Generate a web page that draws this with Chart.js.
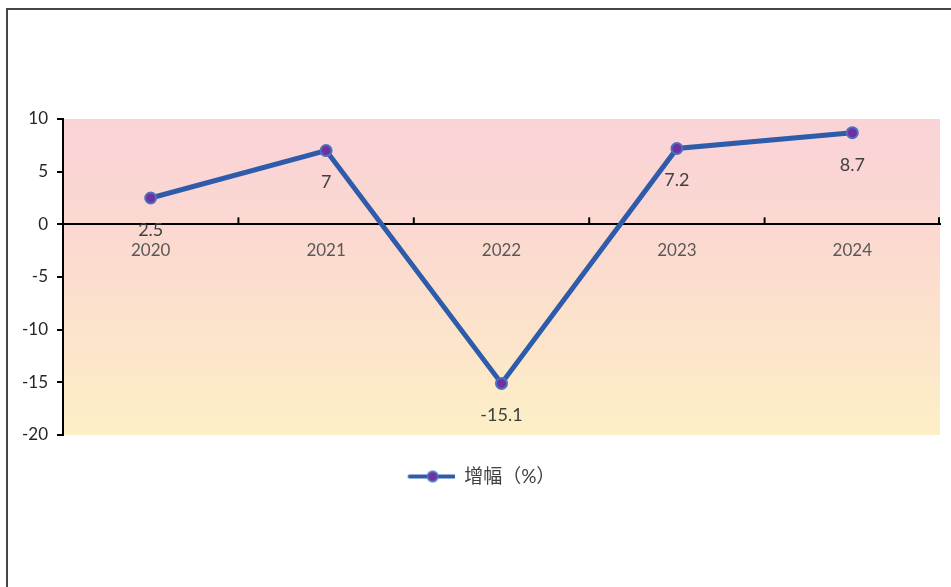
<!DOCTYPE html>
<html>
<head>
<meta charset="utf-8">
<script src="https://cdn.jsdelivr.net/npm/chart.js@4"></script>
<style>
  html, body { margin: 0; padding: 0; background: #fff; }
  .frame {
    position: absolute; left: 6px; top: 8px; width: 945px; height: 579px;
    border-top: 2px solid #464646; border-left: 2px solid #464646;
    box-sizing: border-box;
  }
  .wrap { position: absolute; left: 0; top: 0; width: 951px; height: 587px; }
</style>
</head>
<body>
<div class="frame"></div>
<div class="wrap"><canvas id="chart"></canvas></div>
<script>
const years = ['2020', '2021', '2022', '2023', '2024'];
const growth = [2.5, 7, -15.1, 7.2, 8.7];
const seriesName = '增幅（%）';
const yTicks = [10, 5, 0, -5, -10, -15, -20];

const lineBlue = '#2e5caa';
const dotPurple = '#7030a0';
const fontFamily = "Lato, 'Noto Sans CJK SC', sans-serif";

// legend marker: line with a dot in the middle (left part left blank on purpose)
const marker = document.createElement('canvas');
marker.width = 70;
marker.height = 14;
const mctx = marker.getContext('2d');
mctx.strokeStyle = lineBlue;
mctx.lineWidth = 4;
mctx.lineCap = 'round';
mctx.beginPath();
mctx.moveTo(25, 7);
mctx.lineTo(69, 7);
mctx.stroke();
mctx.beginPath();
mctx.arc(48, 7, 5, 0, Math.PI * 2);
mctx.fillStyle = dotPurple;
mctx.fill();
mctx.lineWidth = 2;
mctx.strokeStyle = '#4a72c0';
mctx.stroke();

const areaBackground = {
    id: 'areaBackground',
    beforeDraw(chart) {
        const { ctx, chartArea: a } = chart;
        const g = ctx.createLinearGradient(0, a.top, 0, a.bottom);
        g.addColorStop(0, '#fad3d8');
        g.addColorStop(0.35, '#fbd8d0');
        g.addColorStop(1, '#fdefc6');
        ctx.save();
        ctx.fillStyle = g;
        ctx.fillRect(a.left, a.top, a.right - a.left, a.bottom - a.top);
        ctx.restore();
    },
};

// upward tick marks on the zero line, between the categories
const zeroTicks = {
    id: 'zeroTicks',
    afterDraw(chart) {
        const { ctx, chartArea: a } = chart;
        const y0 = chart.scales.y.getPixelForValue(0);
        const n = years.length;
        ctx.save();
        ctx.strokeStyle = '#000';
        ctx.lineWidth = 2;
        for (let i = 1; i <= n; i++) {
            const x = a.left + (i * (a.right - a.left)) / n - (i === n ? 1 : 0);
            ctx.beginPath();
            ctx.moveTo(x, y0);
            ctx.lineTo(x, y0 - 7);
            ctx.stroke();
        }
        ctx.restore();
    },
};

const valueLabels = {
    id: 'valueLabels',
    afterDatasetsDraw(chart) {
        const { ctx } = chart;
        const meta = chart.getDatasetMeta(0);
        ctx.save();
        ctx.font = '18px ' + fontFamily;
        ctx.fillStyle = '#404040';
        ctx.textAlign = 'center';
        ctx.textBaseline = 'middle';
        meta.data.forEach((pt, i) => {
            ctx.fillText(String(growth[i]), pt.x, pt.y + 32);
        });
        ctx.restore();
    },
};

const ctx = document.getElementById('chart').getContext('2d');
new Chart(ctx, {
    type: 'line',
    data: {
        labels: years,
        datasets: [
            {
                label: seriesName,
                data: growth,
                borderColor: lineBlue,
                borderWidth: 5,
                tension: 0,
                pointRadius: 5.5,
                pointBackgroundColor: dotPurple,
                pointBorderColor: '#4a72c0',
                pointBorderWidth: 2,
            },
        ],
    },
    options: {
        responsive: true,
        maintainAspectRatio: false,
        animation: false,
        layout: {
            padding: { top: 119, right: 11, bottom: 91, left: 0 },
        },
        plugins: {
            legend: {
                position: 'bottom',
                labels: {
                    usePointStyle: true,
                    pointStyle: marker,
                    pointStyleWidth: 70,
                    boxHeight: 14,
                    padding: 32,
                    color: '#404040',
                    font: { family: fontFamily, size: 19 },
                    generateLabels(chart) {
                        return [{
                            text: seriesName,
                            pointStyle: marker,
                            fillStyle: dotPurple,
                            strokeStyle: lineBlue,
                            lineWidth: 0,
                            fontColor: '#404040',
                            datasetIndex: 0,
                        }];
                    },
                },
            },
            tooltip: { enabled: false },
        },
        scales: {
            x: {
                position: { y: 0 },
                offset: true,
                grid: { display: true, drawOnChartArea: false, drawTicks: false },
                border: { display: true, color: '#000', width: 2 },
                ticks: {
                    padding: 16,
                    color: '#595959',
                    font: { family: fontFamily, size: 17 },
                },
            },
            y: {
                min: -20,
                max: 10,
                afterBuildTicks(scale) {
                    scale.ticks = yTicks.map((v) => ({ value: v }));
                },
                afterFit(scale) {
                    scale.width = 63;
                },
                grid: {
                    drawOnChartArea: false,
                    drawTicks: true,
                    tickLength: 6,
                    color: '#000',
                    lineWidth: 2,
                },
                border: { display: true, color: '#000', width: 2 },
                ticks: {
                    padding: 9,
                    color: '#262626',
                    font: { family: fontFamily, size: 17 },
                },
            },
        },
    },
    plugins: [areaBackground, zeroTicks, valueLabels],
});
</script>
</body>
</html>
